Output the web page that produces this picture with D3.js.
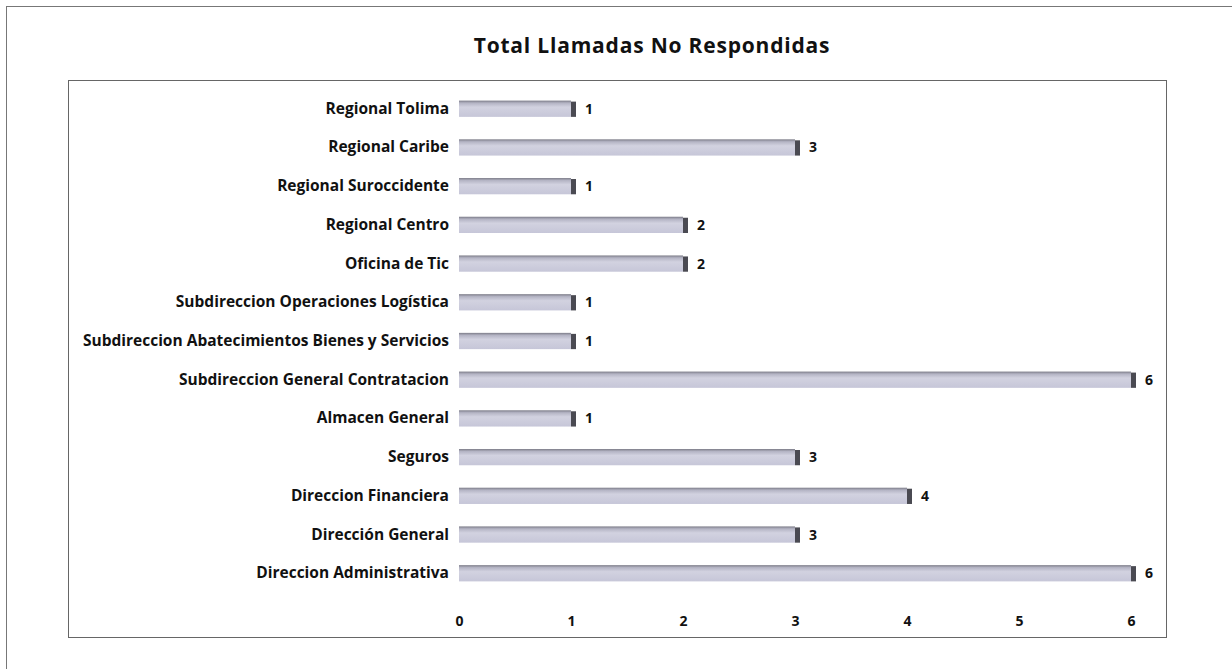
<meta charset="utf-8" />
<script src="https://d3js.org/d3.v7.min.js"></script>
<style>
  body { margin: 0; background: #fff; }
  text { font-family: 'Open Sans', Arial, sans-serif; font-weight: bold; fill: #111; }
</style>
<div id="chart"></div>
<script>
  const categories = [
    'Regional Tolima',
    'Regional Caribe',
    'Regional Suroccidente',
    'Regional Centro',
    'Oficina de Tic',
    'Subdireccion Operaciones Logística',
    'Subdireccion Abatecimientos Bienes y Servicios',
    'Subdireccion General Contratacion',
    'Almacen General ',
    'Seguros',
    'Direccion Financiera',
    'Dirección General',
    'Direccion Administrativa'
  ];
  const values = [1, 3, 1, 2, 2, 1, 1, 6, 1, 3, 4, 3, 6];
  const xTicks = [0, 1, 2, 3, 4, 5, 6];
  const title = 'Total Llamadas No Respondidas';

  const W = 1232, H = 669;
  const svg = d3.select('#chart').append('svg')
    .attr('width', W).attr('height', H);

  // gradient for the flat 3d-ish bars
  const defs = svg.append('defs');
  const grad = defs.append('linearGradient').attr('id', 'barGrad')
    .attr('x1', 0).attr('y1', 0).attr('x2', 0).attr('y2', 1);
  grad.append('stop').attr('offset', '0%').attr('stop-color', '#7c7c88');
  grad.append('stop').attr('offset', '15%').attr('stop-color', '#b4b4c4');
  grad.append('stop').attr('offset', '40%').attr('stop-color', '#d2d2e0');
  grad.append('stop').attr('offset', '100%').attr('stop-color', '#c6c6d8');

  // outer frame
  svg.append('rect').attr('x', 6.5).attr('y', 6.5).attr('width', W).attr('height', H)
    .attr('fill', 'none').attr('stroke', '#777').attr('stroke-width', 1);
  // plot frame
  svg.append('rect').attr('x', 68.5).attr('y', 80.5).attr('width', 1098).attr('height', 557)
    .attr('fill', 'none').attr('stroke', '#666').attr('stroke-width', 1);

  svg.append('text').attr('x', 652).attr('y', 53).attr('text-anchor', 'middle')
    .style('font-size', '21px').style('letter-spacing', '0.8px').text(title);

  const x = d3.scaleLinear().domain([0, 6]).range([459, 1131]);
  const y = d3.scaleBand().domain(categories).range([89, 593]).paddingInner(0.58).paddingOuter(0.3);

  const xAxis = svg.append('g').attr('transform', 'translate(0,613)')
    .call(d3.axisBottom(x).tickValues(xTicks).tickSize(0).tickFormat(d3.format('d')));
  xAxis.select('.domain').remove();
  xAxis.selectAll('text').style('font-size', '14px')
    .style('font-family', "'Open Sans', Arial, sans-serif").attr('fill', '#111');

  const yAxis = svg.append('g').attr('transform', 'translate(449,0)')
    .call(d3.axisLeft(y).tickSize(0).tickPadding(0));
  yAxis.select('.domain').remove();
  yAxis.selectAll('text').style('font-size', '15.5px')
    .style('font-family', "'Open Sans', Arial, sans-serif").attr('fill', '#111');

  const bars = svg.append('g').selectAll('g').data(categories).join('g');
  bars.append('rect')
    .attr('x', x(0))
    .attr('y', (d) => y(d))
    .attr('width', (d, i) => x(values[i]) - x(0))
    .attr('height', y.bandwidth())
    .attr('fill', 'url(#barGrad)');
  bars.append('rect')
    .attr('x', (d, i) => x(values[i]))
    .attr('y', (d) => y(d) + 1)
    .attr('width', 5)
    .attr('height', y.bandwidth() - 1)
    .attr('fill', '#4a4a52');
  bars.append('text')
    .attr('x', (d, i) => x(values[i]) + 14)
    .attr('y', (d) => y(d) + y.bandwidth() / 2 + 5)
    .style('font-size', '14px')
    .text((d, i) => values[i]);
</script>
